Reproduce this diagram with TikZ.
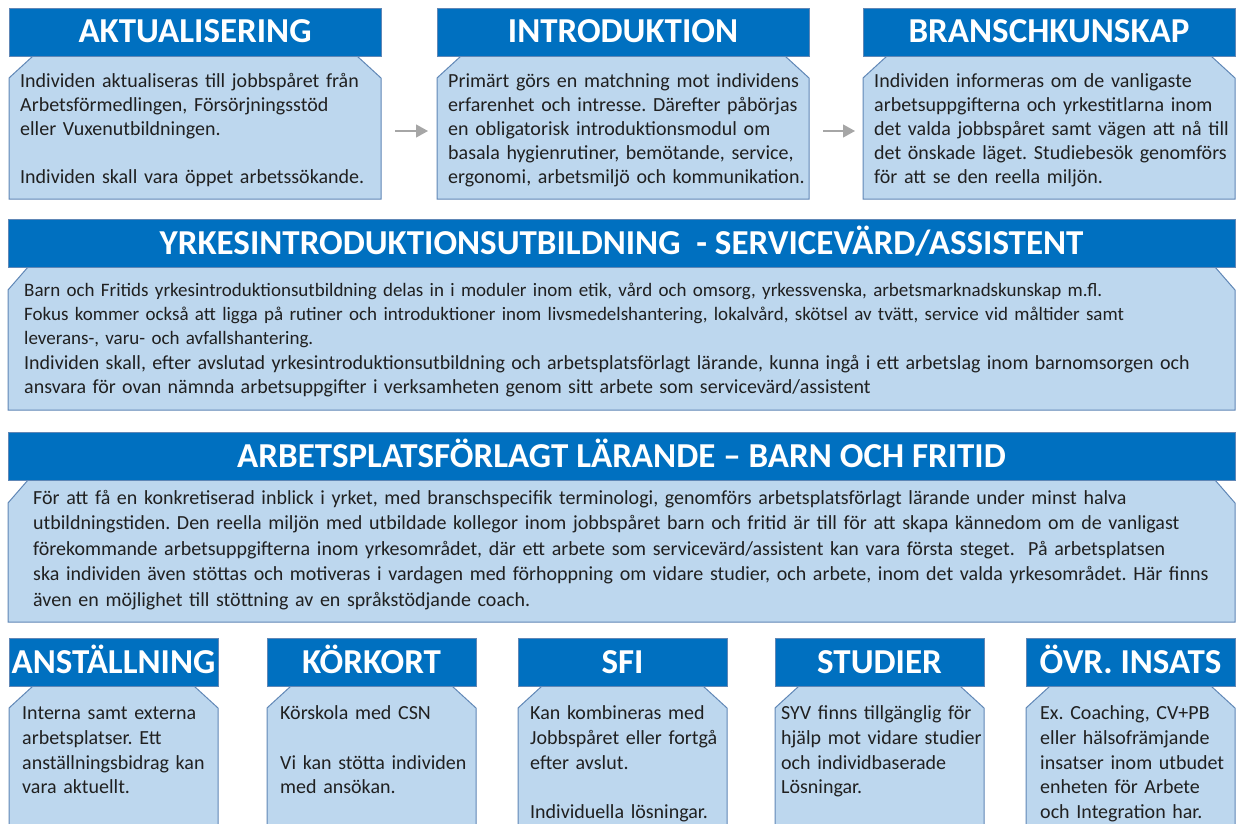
\documentclass[tikz,border=0pt]{standalone}
\usepackage{fontspec}
\setmainfont{Carlito}
\usetikzlibrary{arrows.meta, positioning, calc}
\frenchspacing

\definecolor{headblue}{RGB}{0,112,192}
\definecolor{bodyblue}{RGB}{189,215,238}
\definecolor{edgeblue}{RGB}{96,135,182}
\definecolor{arrowgray}{RGB}{166,166,166}
\definecolor{inktext}{RGB}{32,32,32}

\tikzset{
	bodybox/.style={rectangle, anchor=north west, inner sep=0pt, outer sep=0pt},
	bodyshape/.style={draw=edgeblue, fill=bodyblue, line width=1pt},
	head/.style={rectangle, draw=edgeblue, fill=headblue, text=white, inner sep=0pt, outer sep=0pt,
		minimum height=48pt, text height=22pt, text depth=0pt, font=\bfseries\fontsize{35}{36}\selectfont},
	bodytext/.style={anchor=north west, align=left, inner sep=0pt, text=inktext,
		font=\fontsize{20}{24}\selectfont},
	widetext/.style={bodytext, font=\fontsize{19}{24.3}\selectfont},
	flow/.style={-{Triangle[length=12pt,width=13pt]}, arrowgray, line width=1.2pt},
}

\begin{document}
\begin{tikzpicture}[x=1pt,y=-1pt]
	\useasboundingbox (0,0) rectangle (1237,824);
	
	% ---------- Top row ----------
	\foreach \nm/\xx/\ttl/\txt in {
		akt/9/AKTUALISERING/{Individen aktualiseras till jobbspåret från\\Arbetsförmedlingen, Försörjningsstöd\\eller Vuxenutbildningen.\\[24pt]Individen skall vara öppet arbetssökande.},
		intro/437/INTRODUKTION/{Primärt görs en matchning mot individens\\erfarenhet och intresse. Därefter påbörjas\\en obligatorisk introduktionsmodul om\\basala hygienrutiner, bemötande, service,\\ergonomi, arbetsmiljö och kommunikation.},
		bransch/863/BRANSCHKUNSKAP/{Individen informeras om de vanligaste\\arbetsuppgifterna och yrkestitlarna inom\\det valda jobbspåret samt vägen att nå till\\det önskade läget. Studiebesök genomförs\\för att se den reella miljön.}} {
		\node[bodybox, minimum width=372pt, minimum height=143pt] (\nm-body) at (\xx,56) {};
		\draw[bodyshape] ($(\nm-body.north west)+(0,22)$) -- ++(24,-22) -- ($(\nm-body.north east)+(-24,0)$) -- ++(24,22)
			-- (\nm-body.south east) -- (\nm-body.south west) -- cycle;
		\node[head, minimum width=372pt, above=0pt of \nm-body] (\nm-head) {\ttl};
		\node[bodytext, text width=380pt] (\nm-text) at ($(\nm-body.north west)+(11,15)$) {\strut\txt};
	}
	
	% arrows between the steps
	\draw[flow, shorten <=14pt, shorten >=9pt] ([yshift=-3.5pt]akt-body.east) -- ([yshift=-3.5pt]intro-body.west);
	\draw[flow, shorten <=14pt, shorten >=8pt] ([yshift=-3.5pt]intro-body.east) -- ([yshift=-3.5pt]bransch-body.west);
	
	% ---------- Yrkesintroduktion ----------
	\node[bodybox, minimum width=1227pt, minimum height=143pt] (yrk-body) at (8,267) {};
	\draw[bodyshape] ($(yrk-body.north west)+(0,23)$) -- ++(20,-23) -- ($(yrk-body.north east)+(-20,0)$) -- ++(20,23)
		-- (yrk-body.south east) -- (yrk-body.south west) -- cycle;
	\node[head, minimum width=1227pt, above=0pt of yrk-body] (yrk-head) {YRKESINTRODUKTIONSUTBILDNING\ \ - SERVICEVÄRD/ASSISTENT};
	\node[widetext, text width=1220pt] (yrk-text) at ($(yrk-body.north west)+(16,12)$) {\strut Barn och Fritids yrkesintroduktionsutbildning delas in i moduler inom etik, vård och omsorg, yrkessvenska, arbetsmarknadskunskap m.fl.\\
		Fokus kommer också att ligga på rutiner och introduktioner inom livsmedelshantering, lokalvård, skötsel av tvätt, service vid måltider samt\\
		leverans-, varu- och avfallshantering.\\
		\fontsize{20}{24.3}\selectfont Individen skall, efter avslutad yrkesintroduktionsutbildning och arbetsplatsförlagt lärande, kunna ingå i ett arbetslag inom barnomsorgen och\\
		ansvara för ovan nämnda arbetsuppgifter i verksamheten genom sitt arbete som servicevärd/assistent};
	
	% ---------- Arbetsplatsförlagt lärande ----------
	\node[bodybox, minimum width=1227pt, minimum height=142pt] (apl-body) at (8,480) {};
	\draw[bodyshape] ($(apl-body.north west)+(0,23)$) -- ++(20,-23) -- ($(apl-body.north east)+(-20,0)$) -- ++(20,23)
		-- (apl-body.south east) -- (apl-body.south west) -- cycle;
	\node[head, minimum width=1227pt, above=0pt of apl-body] (apl-head) {ARBETSPLATSFÖRLAGT LÄRANDE – BARN OCH FRITID};
	\node[widetext, text width=1220pt, font=\fontsize{20}{25.6}\selectfont] (apl-text) at ($(apl-body.north west)+(25,6)$) {\strut För att få en konkretiserad inblick i yrket, med branschspecifik terminologi, genomförs arbetsplatsförlagt lärande under minst halva\\
		utbildningstiden. Den reella miljön med utbildade kollegor inom jobbspåret barn och fritid är till för att skapa kännedom om de vanligast\\
		förekommande arbetsuppgifterna inom yrkesområdet, där ett arbete som servicevärd/assistent kan vara första steget.\ \ På arbetsplatsen\\
		ska individen även stöttas och motiveras i vardagen med förhoppning om vidare studier, och arbete, inom det valda yrkesområdet. Här finns\\
		även en möjlighet till stöttning av en språkstödjande coach.};
	
	% ---------- Bottom row ----------
	\foreach \nm/\xx/\dx/\ttl/\txt in {
		anst/9/13/ANSTÄLLNING/{Interna samt externa\\arbetsplatser. Ett\\anställningsbidrag kan\\vara aktuellt.},
		kork/267/13/KÖRKORT/{Körskola med CSN\\[24.6pt]Vi kan stötta individen\\med ansökan.},
		sfi/518/12/SFI/{Kan kombineras med\\Jobbspåret eller fortgå\\efter avslut.\\[24.6pt]Individuella lösningar.},
		stud/775/6/STUDIER/{SYV finns tillgänglig för\\hjälp mot vidare studier\\och individbaserade\\Lösningar.},
		ovr/1026/14/ÖVR. INSATS/{Ex. Coaching, CV+PB\\eller hälsofrämjande\\insatser inom utbudet\\enheten för Arbete\\och Integration har.}} {
		\node[bodybox, minimum width=209pt, minimum height=150pt] (\nm-body) at (\xx,686) {};
		\draw[bodyshape] ($(\nm-body.north west)+(0,22)$) -- ++(24,-22) -- ($(\nm-body.north east)+(-24,0)$) -- ++(24,22)
			-- (\nm-body.south east) -- (\nm-body.south west) -- cycle;
		\node[head, minimum width=209pt, above=0pt of \nm-body] (\nm-head) {\ttl};
		\node[bodytext, text width=220pt, font=\fontsize{20}{24.6}\selectfont] (\nm-text) at ($(\nm-body.north west)+(\dx,16.5)$) {\strut\txt};
	}
	
\end{tikzpicture}
\end{document}
